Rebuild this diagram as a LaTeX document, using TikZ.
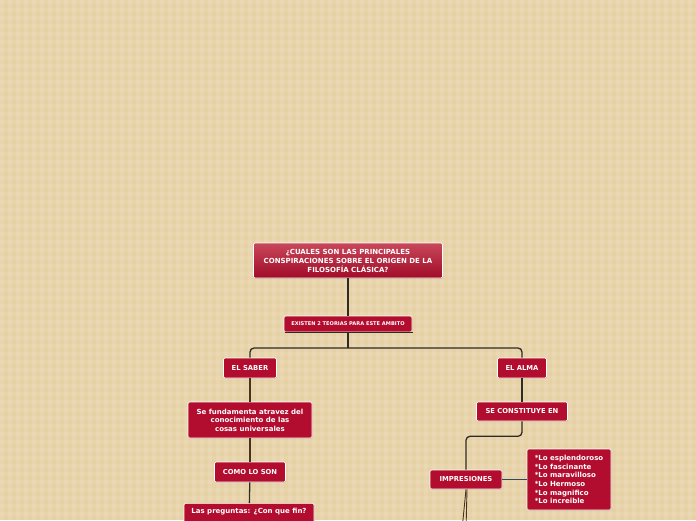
\documentclass[tikz,border=0pt]{standalone}
\usepackage{fontspec}
\setmainfont{DejaVu Sans}
\usepackage{tikz}
\usetikzlibrary{positioning, shadows}

\definecolor{bgtan}{HTML}{E6D1A4}
\definecolor{boxred}{HTML}{B20D2E}
\definecolor{redtop}{HTML}{C8475A}
\definecolor{redbot}{HTML}{A00C28}
\definecolor{linkdark}{HTML}{2F2A24}
\definecolor{linkbrown}{HTML}{4A3020}
\definecolor{linkblue}{HTML}{34475F}

\tikzset{
  topic/.style={draw=white, line width=0.6pt, fill=boxred, text=white,
    font=\bfseries\fontsize{6.8}{8}\selectfont, rounded corners=1.5pt,
    align=center, inner sep=2pt,
    drop shadow={opacity=0.25, shadow xshift=0.6pt, shadow yshift=-0.8pt}},
  link/.style={draw=linkdark, line width=1.3pt, rounded corners=4pt},
  branch/.style={draw=linkbrown, line width=0.9pt},
}

\begin{document}
\begin{tikzpicture}[x=1pt, y=-1pt]
  \useasboundingbox (0,0) rectangle (696,520);
  % background
  \fill[bgtan] (0,0) rectangle (696,520);
  \foreach \i in {0,8,...,688} {
    \fill[white, opacity=0.10] (\i,0) rectangle ++(4,520);
  }
  \foreach \j in {0,8,...,512} {
    \fill[white, opacity=0.08] (0,\j) rectangle ++(696,4);
  }

  % nodes
  \node[topic, top color=redtop, bottom color=redbot, minimum width=189pt, minimum height=35pt,
        font=\bfseries\fontsize{7}{9}\selectfont] (pregunta) at (348,260.5)
       {¿CUALES SON LAS PRINCIPALES\\CONSPIRACIONES SOBRE EL ORIGEN DE LA\\FILOSOFÍA CLÁSICA?};
  \node[topic, minimum width=128pt, minimum height=16pt, font=\bfseries\fontsize{5.1}{6}\selectfont]
       (teorias) at (348,324) {EXISTEN 2 TEORIAS PARA ESTE AMBITO};
  \node[topic, minimum width=53pt, minimum height=20pt] (saber) at (250,368) {EL SABER};
  \node[topic, minimum width=49pt, minimum height=20pt] (alma) at (522,368) {EL ALMA};
  \node[topic, minimum width=124pt, minimum height=36pt, font=\bfseries\fontsize{7}{8.5}\selectfont]
       (fundamento) at (250,420) {Se fundamenta atravez del\\conocimiento de las\\cosas universales};
  \node[topic, minimum width=71pt, minimum height=20pt] (comoson) at (250,472) {COMO LO SON};
  \node[topic, anchor=north, minimum width=130pt, inner ysep=5pt, text depth=20pt,
        font=\bfseries\fontsize{7}{8.5}\selectfont]
       (preguntas) at (249,503) {Las preguntas: ¿Con que fin?};
  \node[topic, minimum width=91pt, minimum height=19pt] (constituye) at (522,411.5) {SE CONSTITUYE EN};
  \node[topic, minimum width=72pt, minimum height=19pt] (impresiones) at (466,479.5) {IMPRESIONES};
  \node[topic, minimum width=84pt, minimum height=61pt, align=left,
        font=\bfseries\fontsize{7}{8.6}\selectfont] (lista) at (569,479.5)
       {*Lo esplendoroso\\*Lo fascinante\\*Lo maravilloso\\*Lo Hermoso\\*Lo magnifico\\*Lo increible};
  \coordinate (reparto) at (348,348);
  \coordinate (salida1) at (462,530);
  \coordinate (salida2) at (466,530);

  % connectors
  \draw[link] (pregunta) -- (teorias);
  \draw[link] ([xshift=1pt]teorias.south west) -- ([xshift=1pt]teorias.south east);
  \draw[link] (teorias.south) -- (reparto);
  \draw[link] (saber.north) |- (reparto) -| (alma.north);
  \draw[link, draw=linkbrown] (saber) -- (fundamento);
  \draw[link, draw=linkbrown] (fundamento) -- (comoson);
  \draw[link] (comoson) -- (preguntas);
  \draw[link] (alma) -- (constituye);
  \draw[link] (constituye.south) -- ++(0,15) -| (impresiones.north);
  \draw[link, draw=linkblue] (impresiones) -- (lista);
  \draw[branch] (impresiones.south) -- (salida1);
  \draw[branch] ([xshift=1pt]impresiones.south) -- (salida2);
\end{tikzpicture}
\end{document}
